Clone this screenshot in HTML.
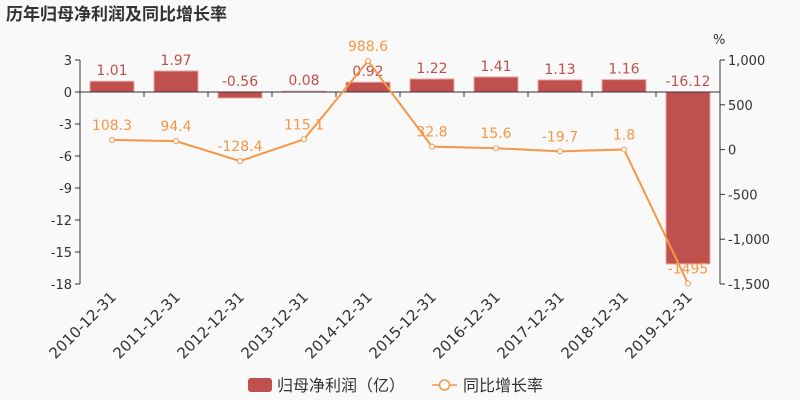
<!DOCTYPE html>
<html><head><meta charset="utf-8"><style>
html,body{margin:0;padding:0;background:#f9f9f9;}
svg{display:block;font-family:"DejaVu Sans","Liberation Sans","Noto Sans CJK SC",sans-serif;}
</style></head><body>
<svg id="c" width="800" height="400">
<text x="6" y="20" font-size="17" font-weight="bold" fill="#333" style="font-family:'Noto Sans CJK SC',sans-serif">历年归母净利润及同比增长率</text>
</svg>
<script>
const categories=["2010-12-31","2011-12-31","2012-12-31","2013-12-31","2014-12-31","2015-12-31","2016-12-31","2017-12-31","2018-12-31","2019-12-31"];
const profit=[1.01,1.97,-0.56,0.08,0.92,1.22,1.41,1.13,1.16,-16.12];
const growth=[108.3,94.4,-128.4,115.1,988.6,32.8,15.6,-19.7,1.8,-1495];
const leftTicks=[3,0,-3,-6,-9,-12,-15,-18];
const rightTicks=[1000,500,0,-500,-1000,-1500];
const rightTickLabels=["1,000","500","0","-500","-1,000","-1,500"];
const svg=document.getElementById('c');
const NS="http://www.w3.org/2000/svg";
const X0=80,X1=720,Y0=60,Y1=284;
const band=(X1-X0)/categories.length;
const xc=i=>X0+band*(i+0.5);
const yl=v=>Y0+(3-v)/21*(Y1-Y0);
const yr=v=>Y0+(1000-v)/2500*(Y1-Y0);
function mk(t,a,txt){const e=document.createElementNS(NS,t);for(const k in a)e.setAttribute(k,a[k]);if(txt!==undefined)e.textContent=txt;svg.appendChild(e);return e;}
// axes
let e=mk('line',{x1:X0,y1:Y0,x2:X0,y2:Y1,stroke:'#333'});

e=mk('line',{x1:X1,y1:Y0,x2:X1,y2:Y1,stroke:'#333'});

leftTicks.forEach(v=>{
 mk('line',{x1:X0-5,y1:yl(v),x2:X0,y2:yl(v),stroke:'#333'});
 e=mk('text',{x:X0-8,y:yl(v)+5,'font-size':13,fill:'#333','text-anchor':'end'},String(v));
 
});
rightTicks.forEach((v,i)=>{
 mk('line',{x1:X1,y1:yr(v),x2:X1+5,y2:yr(v),stroke:'#333'});
 e=mk('text',{x:X1+8,y:yr(v)+5,'font-size':13,fill:'#333'},rightTickLabels[i]);
 
});
e=mk('text',{x:713,y:44,'font-size':13,fill:'#333'},'%');

// bars
profit.forEach((v,i)=>{
 const y=Math.min(yl(v),yl(0)),h=Math.abs(yl(v)-yl(0));
 e=mk('rect',{x:xc(i)-22,y:y,width:44,height:Math.max(h,0.8),fill:'#c0504d',stroke:'#e8a9a7','stroke-width':1});
 
 const ly=v>=0?yl(v)-6:yl(0)-6;
 e=mk('text',{x:xc(i),y:ly,'font-size':14,fill:'#c0504d','text-anchor':'middle'},String(v));
 
});
// x axis zero line + ticks
e=mk('line',{x1:X0,y1:yl(0),x2:X1,y2:yl(0),stroke:'#333'});

for(let i=0;i<=categories.length;i++){mk('line',{x1:X0+band*i,y1:yl(0),x2:X0+band*i,y2:yl(0)+5,stroke:'#333'});}
categories.forEach((c,i)=>{
 const tx=xc(i)+5,ty=298;
 e=mk('text',{x:tx,y:ty,'font-size':15,fill:'#333','text-anchor':'end',transform:`rotate(-45 ${tx} ${ty})`},c);
 
});
// line
e=mk('polyline',{points:growth.map((v,i)=>xc(i)+','+yr(v)).join(' '),fill:'none',stroke:'#f79646','stroke-width':2});

growth.forEach((v,i)=>{
 e=mk('circle',{cx:xc(i),cy:yr(v),r:2.5,fill:'#fff',stroke:'#f79646','stroke-width':1});
 
 e=mk('text',{x:xc(i),y:yr(v)-10,'font-size':14,fill:'#f79646','text-anchor':'middle'},String(v));
 
});
// legend
e=mk('rect',{x:248,y:378,width:24,height:14,rx:3,fill:'#c0504d'});

e=mk('text',{x:277,y:391,'font-size':16,fill:'#333',style:"font-family:'Noto Sans CJK SC',sans-serif"},'归母净利润（亿）');

mk('line',{x1:432,y1:385,x2:457,y2:385,stroke:'#f79646','stroke-width':1.5});
e=mk('circle',{cx:444.5,cy:385,r:5,fill:'#fff',stroke:'#f79646','stroke-width':1.5});

e=mk('text',{x:463,y:391,'font-size':16,fill:'#333',style:"font-family:'Noto Sans CJK SC',sans-serif"},'同比增长率');

</script>
</body></html>
